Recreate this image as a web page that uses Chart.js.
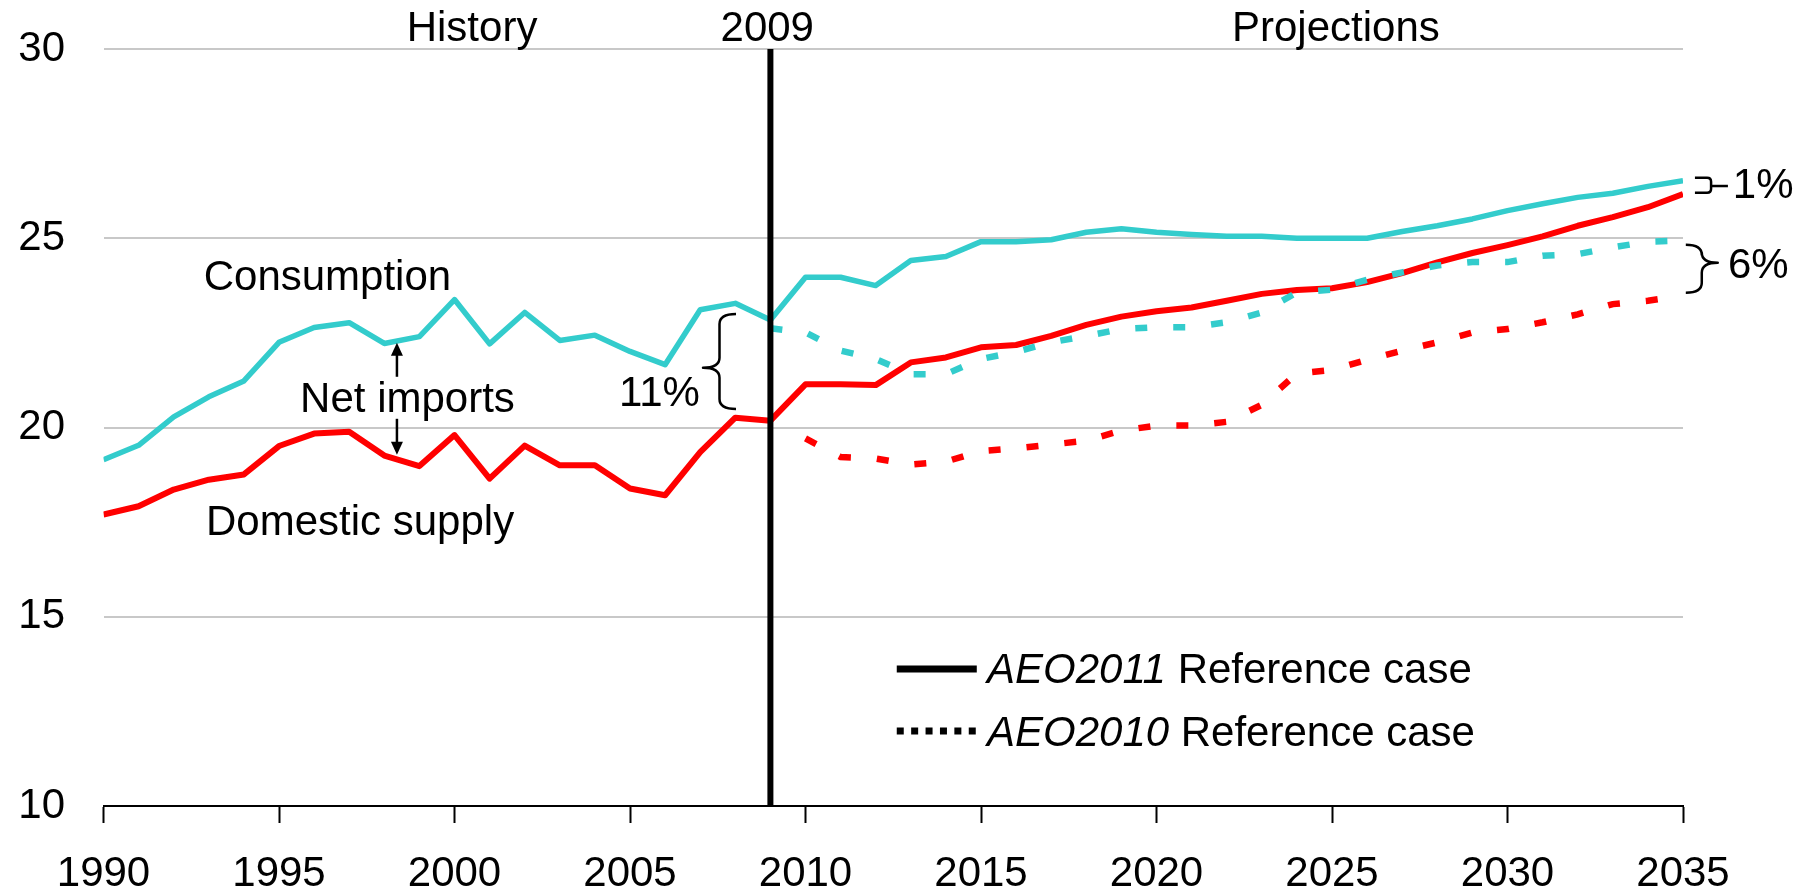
<!DOCTYPE html>
<html><head><meta charset="utf-8">
<style>html,body{margin:0;padding:0;background:#fff;overflow:hidden}canvas{display:block}</style>
<script src="https://cdn.jsdelivr.net/npm/chart.js@4.4.1/dist/chart.umd.min.js"></script>
</head><body>
<canvas id="c" width="1808" height="894"></canvas>
<script>
// ---- data ----
const years = [1990,1991,1992,1993,1994,1995,1996,1997,1998,1999,2000,2001,2002,2003,2004,2005,2006,2007,2008,2009,
  2010,2011,2012,2013,2014,2015,2016,2017,2018,2019,2020,2021,2022,2023,2024,2025,2026,2027,2028,2029,2030,2031,2032,2033,2034,2035];
const consumptionAEO2011 = [19.15,19.53,20.28,20.81,21.23,22.25,22.64,22.77,22.22,22.40,23.38,22.21,23.04,22.30,22.44,22.01,21.66,23.11,23.28,22.84,
  23.97,23.97,23.75,24.41,24.52,24.91,24.91,24.96,25.16,25.25,25.16,25.10,25.05,25.05,25.00,25.00,25.00,25.18,25.33,25.51,25.73,25.91,26.08,26.19,26.37,26.52];
const supplyAEO2011 = [17.70,17.92,18.36,18.62,18.76,19.51,19.84,19.89,19.26,18.98,19.80,18.65,19.52,19.00,19.00,18.39,18.21,19.35,20.26,20.18,
  21.14,21.14,21.12,21.72,21.85,22.12,22.18,22.42,22.71,22.93,23.07,23.17,23.35,23.53,23.63,23.68,23.84,24.08,24.36,24.61,24.82,25.05,25.33,25.56,25.82,26.17];
const yearsAEO2010Consumption = [2009,2010,2011,2012,2013,2014,2015,2016,2017,2018,2019,2020,2021,2022,2023,2024,2025,2026,2027,2028,2029,2030,2031,2032,2033,2034,2035];
const consumptionAEO2010 = [22.62,22.51,22.03,21.81,21.41,21.41,21.81,22.00,22.25,22.42,22.60,22.65,22.65,22.78,23.04,23.57,23.64,23.90,24.10,24.28,24.37,24.37,24.54,24.58,24.76,24.91,24.94];
const yearsAEO2010Supply = [2010,2011,2012,2013,2014,2015,2016,2017,2018,2019,2020,2021,2022,2023,2024,2025,2026,2027,2028,2029,2030,2031,2032,2033,2034,2035];
const supplyAEO2010 = [19.71,19.22,19.18,19.02,19.10,19.38,19.45,19.55,19.65,19.92,20.05,20.05,20.15,20.60,21.43,21.52,21.79,22.03,22.25,22.51,22.60,22.78,22.99,23.26,23.35,23.48];
const xTickValues = [1990,1995,2000,2005,2010,2015,2020,2025,2030,2035];
const yTickValues = [10,15,20,25,30];
const dividerYear = 2009;

// ---- styles ----
const TEAL = '#33CCCC', RED = '#FF0000';
const FONT = '"Liberation Sans", Arial, Helvetica, sans-serif';
const pts = (xs, ys) => xs.map((x, i) => ({x, y: ys[i]}));

const annot = {
  id: 'annot',
  afterDatasetsDraw(chart) {
    const {ctx, scales: {x, y}} = chart;
    const X = v => x.getPixelForValue(v), Y = v => y.getPixelForValue(v);
    ctx.save();
    // divider line
    ctx.strokeStyle = '#000'; ctx.lineWidth = 6; ctx.lineCap = 'butt';
    ctx.beginPath(); ctx.moveTo(X(dividerYear), y.top); ctx.lineTo(X(dividerYear), y.bottom + 1); ctx.stroke();

    ctx.fillStyle = '#000';
    ctx.font = '42px ' + FONT;
    ctx.textBaseline = 'alphabetic';
    const text = (s, xv, yv, align) => { ctx.textAlign = align || 'center'; ctx.fillText(s, X(xv), Y(yv)); };
    text('History', 2000.5, 30.21);
    text('2009', 2008.91, 30.21);
    text('Projections', 2025.11, 30.21);
    text('Consumption', 1996.38, 23.64);
    text('Net imports', 1998.66, 20.42);
    text('Domestic supply', 1997.31, 17.16);
    text('11%', 2005.84, 20.57);
    text('1%', 2036.42, 26.07, 'left');
    text('6%', 2036.28, 23.96, 'left');

    // arrows
    const arrow = (xv, y0, y1) => {
      const px = X(xv), p0 = Y(y0), p1 = Y(y1);
      const dir = Math.sign(p1 - p0);
      ctx.lineWidth = 2.5;
      ctx.beginPath(); ctx.moveTo(px, p0); ctx.lineTo(px, p1 - dir * 10); ctx.stroke();
      ctx.beginPath(); ctx.moveTo(px, p1); ctx.lineTo(px - 6, p1 - dir * 13); ctx.lineTo(px + 6, p1 - dir * 13); ctx.closePath(); ctx.fill();
    };
    arrow(1998.36, 21.34, 22.24);
    arrow(1998.36, 20.23, 19.28);

    // braces
    const brace = (xTip, xEnd, yTop, yMid, yBot) => {
      const tx = X(xTip), ex = X(xEnd), t = Y(yTop), m = Y(yMid), b = Y(yBot);
      const sx = (tx + ex) / 2, r = Math.min(10, Math.abs(ex - tx) / 2);
      ctx.lineWidth = 2.5; ctx.lineJoin = 'round';
      ctx.beginPath();
      ctx.moveTo(ex, t);
      ctx.quadraticCurveTo(sx, t, sx, t + r);
      ctx.lineTo(sx, m - r);
      ctx.quadraticCurveTo(sx, m, tx, m);
      ctx.quadraticCurveTo(sx, m, sx, m + r);
      ctx.lineTo(sx, b - r);
      ctx.quadraticCurveTo(sx, b, ex, b);
      ctx.stroke();
    };
    brace(2007.08, 2008.02, 23.0, 21.58, 20.49);
    brace(2035.99, 2035.08, 24.83, 24.35, 23.56);
    // small bracket for 1%
    {
      const l = X(2035.34), s = X(2035.80), t = Y(26.60), b = Y(26.20), m = Y(26.38), e = X(2036.28);
      ctx.lineWidth = 2.5;
      ctx.beginPath();
      ctx.moveTo(l, t); ctx.lineTo(s - 4, t); ctx.quadraticCurveTo(s, t, s, t + 4);
      ctx.lineTo(s, b - 4); ctx.quadraticCurveTo(s, b, s - 4, b); ctx.lineTo(l, b);
      ctx.stroke();
      ctx.beginPath(); ctx.moveTo(s, m); ctx.lineTo(e, m); ctx.stroke();
    }

    // legend
    const lx0 = X(2012.6), lx1 = X(2014.88), tx = X(2015.17);
    ctx.lineWidth = 7; ctx.setLineDash([]);
    ctx.beginPath(); ctx.moveTo(lx0, Y(13.62)); ctx.lineTo(lx1, Y(13.62)); ctx.stroke();
    ctx.setLineDash([7, 7.4]);
    ctx.beginPath(); ctx.moveTo(lx0, Y(11.98)); ctx.lineTo(lx1, Y(11.98)); ctx.stroke();
    ctx.setLineDash([]);
    const legendText = (it, rest, yv) => {
      ctx.textAlign = 'left';
      ctx.font = 'italic 42px ' + FONT;
      ctx.fillText(it, tx, Y(yv));
      const w = ctx.measureText(it).width;
      ctx.font = '42px ' + FONT;
      ctx.fillText(rest, tx + w, Y(yv));
    };
    legendText('AEO2011', ' Reference case', 13.25);
    legendText('AEO2010', ' Reference case', 11.59);
    ctx.restore();
  }
};

new Chart(document.getElementById('c'), {
  type: 'line',
  data: {
    datasets: [
      {label: 'Consumption AEO2010', data: pts(yearsAEO2010Consumption, consumptionAEO2010), borderColor: TEAL, borderWidth: 6.5, borderDash: [12, 26], borderCapStyle: 'butt', order: 0},
      {label: 'Domestic supply AEO2011', data: pts(years, supplyAEO2011), borderColor: RED, borderWidth: 6, borderJoinStyle: 'round', order: 1},
      {label: 'Consumption AEO2011', data: pts(years, consumptionAEO2011), borderColor: TEAL, borderWidth: 5.5, borderJoinStyle: 'round', order: 2},
      {label: 'Domestic supply AEO2010', data: pts(yearsAEO2010Supply, supplyAEO2010), borderColor: RED, borderWidth: 6.5, borderDash: [12, 26], borderCapStyle: 'butt', order: 3}
    ]
  },
  options: {
    responsive: false,
    animation: false,
    devicePixelRatio: 1,
    elements: {point: {radius: 0}, line: {tension: 0, fill: false}},
    layout: {padding: {top: 49, right: 125, left: 0, bottom: 0}},
    plugins: {legend: {display: false}, tooltip: {enabled: false}},
    scales: {
      x: {
        type: 'linear', min: 1990, max: 2035,
        afterBuildTicks: s => { s.ticks = xTickValues.map(v => ({value: v})); },
        afterFit: s => { s.height = 88; },
        ticks: {callback: v => String(v), color: '#000', font: {size: 42, family: FONT}, padding: 26, maxRotation: 0, autoSkip: false},
        grid: {drawOnChartArea: false, drawTicks: true, tickLength: 17, tickColor: '#000', tickWidth: 2},
        border: {display: true, color: '#000', width: 2}
      },
      y: {
        min: 10, max: 30,
        afterBuildTicks: s => { s.ticks = yTickValues.map(v => ({value: v})); },
        afterFit: s => { s.width = 103.5; s.paddingTop = 0; s.paddingBottom = 0; },
        ticks: {color: '#000', font: {size: 42, family: FONT}, padding: 38.5},
        grid: {color: '#c8c8c8', lineWidth: 2, drawTicks: false},
        border: {display: false}
      }
    }
  },
  plugins: [annot]
});
</script>
</body></html>
